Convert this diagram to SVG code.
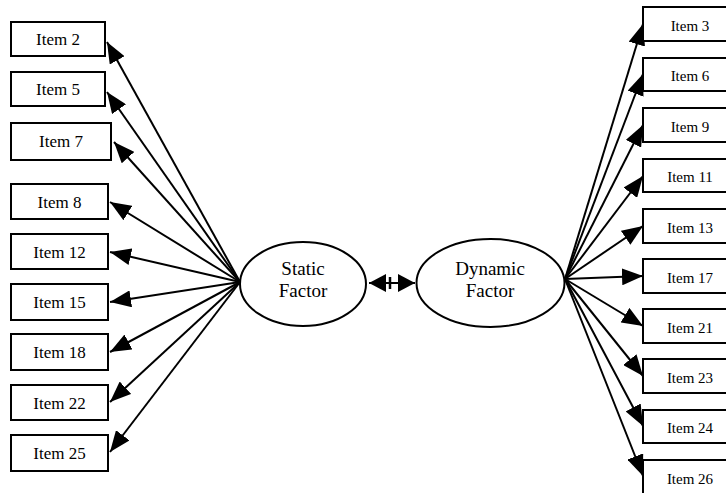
<svg xmlns="http://www.w3.org/2000/svg" width="726" height="493" viewBox="0 0 726 493">
<defs>
<marker id="ah" markerUnits="userSpaceOnUse" markerWidth="21" markerHeight="17" refX="21" refY="8.5" orient="auto-start-reverse" viewBox="0 0 21 17">
<path d="M0,0 L21,8.5 L0,17 z" fill="#000"/>
</marker>
<marker id="ah2" markerUnits="userSpaceOnUse" markerWidth="17" markerHeight="18" refX="17" refY="9" orient="auto-start-reverse" viewBox="0 0 17 18">
<path d="M0,0 L17,9 L0,18 z" fill="#000"/>
</marker>
<style>
.box{fill:#fff;stroke:#000;stroke-width:2}
.ell{fill:#fff;stroke:#000;stroke-width:2}
.lt{font-family:"Liberation Serif","Times New Roman",serif;font-size:17px;text-anchor:middle;fill:#000}
.rt{font-family:"Liberation Serif","Times New Roman",serif;font-size:15px;text-anchor:middle;fill:#000}
.ft{font-family:"Liberation Serif","Times New Roman",serif;font-size:19px;text-anchor:middle;fill:#000}
.c{stroke:#000;stroke-width:2;fill:none;marker-end:url(#ah)}
</style>
</defs>
<rect width="726" height="493" fill="#fff"/>
<g id="connectors">
<line class="c" x1="240" y1="282" x2="107" y2="42"/>
<line class="c" x1="240" y1="282" x2="107" y2="92"/>
<line class="c" x1="240" y1="282" x2="114" y2="142"/>
<line class="c" x1="240" y1="282" x2="110" y2="202"/>
<line class="c" x1="240" y1="282" x2="110" y2="252"/>
<line class="c" x1="240" y1="282" x2="110" y2="302"/>
<line class="c" x1="240" y1="282" x2="110" y2="352"/>
<line class="c" x1="240" y1="282" x2="110" y2="402"/>
<line class="c" x1="240" y1="282" x2="110" y2="452"/>
<line class="c" x1="565" y1="279" x2="643" y2="24"/>
<line class="c" x1="565" y1="279" x2="643" y2="74"/>
<line class="c" x1="565" y1="279" x2="643" y2="125"/>
<line class="c" x1="565" y1="279" x2="643" y2="176"/>
<line class="c" x1="565" y1="279" x2="643" y2="226"/>
<line class="c" x1="565" y1="279" x2="643" y2="276"/>
<line class="c" x1="565" y1="279" x2="643" y2="326"/>
<line class="c" x1="565" y1="279" x2="643" y2="376"/>
<line class="c" x1="565" y1="279" x2="643" y2="426"/>
<line class="c" x1="565" y1="279" x2="643" y2="476"/>
<line x1="369" y1="283" x2="415" y2="283" stroke="#000" stroke-width="2" marker-start="url(#ah2)" marker-end="url(#ah2)"/>
<line x1="390" y1="277" x2="390" y2="289" stroke="#000" stroke-width="2.5"/>
</g>
<g id="static"><ellipse class="ell" cx="303" cy="284" rx="63" ry="42"/><text class="ft" x="303" y="275">Static</text><text class="ft" x="303" y="297">Factor</text></g>
<g id="dynamic"><ellipse class="ell" cx="490.5" cy="283" rx="74" ry="44"/><text class="ft" x="490" y="275">Dynamic</text><text class="ft" x="490" y="297">Factor</text></g>
<g id="item2"><rect class="box" x="11" y="22" width="94" height="34"/><text class="lt" x="58" y="45">Item 2</text></g>
<g id="item5"><rect class="box" x="11" y="72" width="94" height="34"/><text class="lt" x="58" y="95">Item 5</text></g>
<g id="item7"><rect class="box" x="11" y="123" width="100" height="37"/><text class="lt" x="61" y="147">Item 7</text></g>
<g id="item8"><rect class="box" x="11" y="184" width="97" height="35"/><text class="lt" x="59.5" y="208">Item 8</text></g>
<g id="item12"><rect class="box" x="11" y="234" width="97" height="35"/><text class="lt" x="59.5" y="258">Item 12</text></g>
<g id="item15"><rect class="box" x="11" y="284" width="97" height="36"/><text class="lt" x="59.5" y="308">Item 15</text></g>
<g id="item18"><rect class="box" x="11" y="334" width="97" height="36"/><text class="lt" x="59.5" y="358">Item 18</text></g>
<g id="item22"><rect class="box" x="11" y="385" width="97" height="35"/><text class="lt" x="59.5" y="409">Item 22</text></g>
<g id="item25"><rect class="box" x="11" y="435" width="97" height="36"/><text class="lt" x="59.5" y="459">Item 25</text></g>
<g id="item3"><rect class="box" x="643" y="7" width="94" height="34"/><text class="rt" x="690" y="31">Item 3</text></g>
<g id="item6"><rect class="box" x="643" y="58" width="94" height="33"/><text class="rt" x="690" y="81">Item 6</text></g>
<g id="item9"><rect class="box" x="643" y="108" width="94" height="34"/><text class="rt" x="690" y="132">Item 9</text></g>
<g id="item11"><rect class="box" x="643" y="159" width="94" height="33"/><text class="rt" x="690" y="182">Item 11</text></g>
<g id="item13"><rect class="box" x="643" y="209" width="94" height="34"/><text class="rt" x="690" y="233">Item 13</text></g>
<g id="item17"><rect class="box" x="643" y="259" width="94" height="34"/><text class="rt" x="690" y="283">Item 17</text></g>
<g id="item21"><rect class="box" x="643" y="309" width="94" height="34"/><text class="rt" x="690" y="333">Item 21</text></g>
<g id="item23"><rect class="box" x="643" y="359" width="94" height="34"/><text class="rt" x="690" y="383">Item 23</text></g>
<g id="item24"><rect class="box" x="643" y="410" width="94" height="33"/><text class="rt" x="690" y="433">Item 24</text></g>
<g id="item26"><rect class="box" x="643" y="460" width="94" height="34"/><text class="rt" x="690" y="484">Item 26</text></g>
</svg>
